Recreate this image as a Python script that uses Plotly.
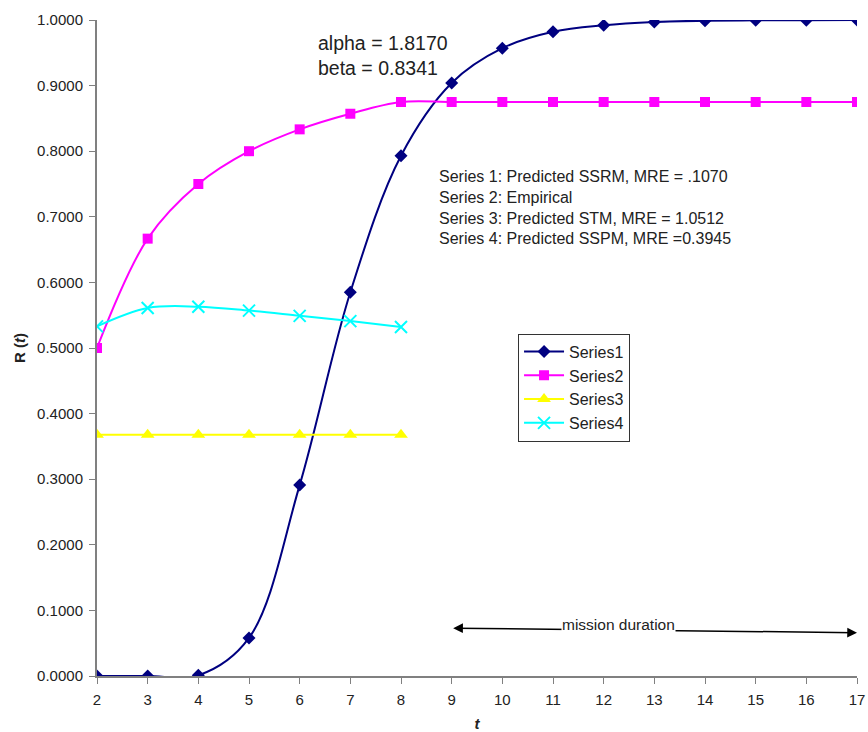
import plotly.graph_objects as go

t_all = [2, 3, 4, 5, 6, 7, 8, 9, 10, 11, 12, 13, 14, 15, 16, 17]
t_short = [2, 3, 4, 5, 6, 7, 8]

series1 = [0.0000, 0.0000, 0.0010, 0.0580, 0.2910, 0.5850, 0.7930, 0.9040,
           0.9570, 0.9820, 0.9920, 0.9970, 0.9990, 0.9995, 0.9998, 1.0000]
series2 = [0.5000, 0.6667, 0.7500, 0.8000, 0.8333, 0.8571, 0.8750, 0.8750,
           0.8750, 0.8750, 0.8750, 0.8750, 0.8750, 0.8750, 0.8750, 0.8750]
series3 = [0.3679, 0.3679, 0.3679, 0.3679, 0.3679, 0.3679, 0.3679]
series4 = [0.5330, 0.5610, 0.5630, 0.5570, 0.5490, 0.5410, 0.5320]

y_ticks = [0.0, 0.1, 0.2, 0.3, 0.4, 0.5, 0.6, 0.7, 0.8, 0.9, 1.0]
x_ticks = list(range(2, 18))

font_family = "Liberation Sans, Arial, sans-serif"
text_color = "#222222"

fig = go.Figure()
fig.add_trace(go.Scatter(x=t_all, y=series1, name="Series1", mode="lines+markers",
                         line=dict(color="#000080", width=2, shape="spline"),
                         marker=dict(symbol="diamond", size=10, color="#000080")))
fig.add_trace(go.Scatter(x=t_all, y=series2, name="Series2", mode="lines+markers",
                         line=dict(color="#FF00FF", width=2, shape="spline"),
                         marker=dict(symbol="square", size=10, color="#FF00FF")))
fig.add_trace(go.Scatter(x=t_short, y=series3, name="Series3", mode="lines+markers",
                         line=dict(color="#FFFF00", width=2, shape="spline"),
                         marker=dict(symbol="triangle-up", size=12, color="#FFFF00")))
fig.add_trace(go.Scatter(x=t_short, y=series4, name="Series4", mode="lines+markers",
                         line=dict(color="#00FFFF", width=2, shape="spline"),
                         marker=dict(symbol="x-thin-open", size=12,
                                     line=dict(color="#00FFFF", width=2))))

fig.update_layout(
    width=868, height=732,
    margin=dict(l=97, r=11, t=20, b=56),
    plot_bgcolor="white", paper_bgcolor="white",
    font=dict(family=font_family, size=14, color=text_color),
    showlegend=True,
    legend=dict(x=0.554, y=0.522, xanchor="left", yanchor="top",
                bordercolor="#333333", borderwidth=1, bgcolor="white",
                font=dict(size=16, color=text_color), itemwidth=40,
                tracegroupgap=0),
    xaxis=dict(range=[2, 17], tickvals=x_ticks, showgrid=False, zeroline=False,
               showline=True, linecolor="#808080", linewidth=2,
               ticks="outside", tickcolor="#808080", ticklen=6,
               tickfont=dict(size=15), ticklabelstandoff=3, automargin=False,
               title=dict(text="<b><i>t</i></b>", font=dict(size=15), standoff=12)),
    yaxis=dict(range=[0, 1.0], tickvals=y_ticks, tickformat=".4f", showgrid=False,
               zeroline=False, showline=True, linecolor="#808080", linewidth=2,
               ticks="outside", tickcolor="#808080", ticklen=6,
               tickfont=dict(size=15), ticklabelstandoff=3, automargin=False,
               title=dict(text="<b>R (<i>t</i>)</b>", font=dict(size=15), standoff=8)),
)

fig.add_annotation(x=0.288, y=0.985, xref="paper", yref="paper", xanchor="left", yanchor="top",
                   text="alpha = 1.8170<br>beta = 0.8341", showarrow=False, align="left",
                   font=dict(size=19.5, color=text_color))
fig.add_annotation(x=0.447, y=0.777, xref="paper", yref="paper", xanchor="left", yanchor="top",
                   text=("Series 1: Predicted SSRM, MRE = .1070<br>Series 2: Empirical<br>"
                         "Series 3: Predicted STM, MRE = 1.0512<br>Series 4: Predicted SSPM, MRE =0.3945"),
                   showarrow=False, align="left", font=dict(size=16, color=text_color))
fig.add_annotation(x=17, y=0.066, ax=9, ay=0.073, xref="x", yref="y", axref="x", ayref="y",
                   text="", showarrow=True, arrowhead=2, arrowside="end+start",
                   arrowsize=1.3, arrowwidth=1.5, arrowcolor="black")
fig.add_annotation(x=12.3, y=0.079, xref="x", yref="y", text="mission duration",
                   showarrow=False, font=dict(size=15.5, color=text_color), bgcolor="white",
                   borderpad=0)

fig.write_html("out.html")
